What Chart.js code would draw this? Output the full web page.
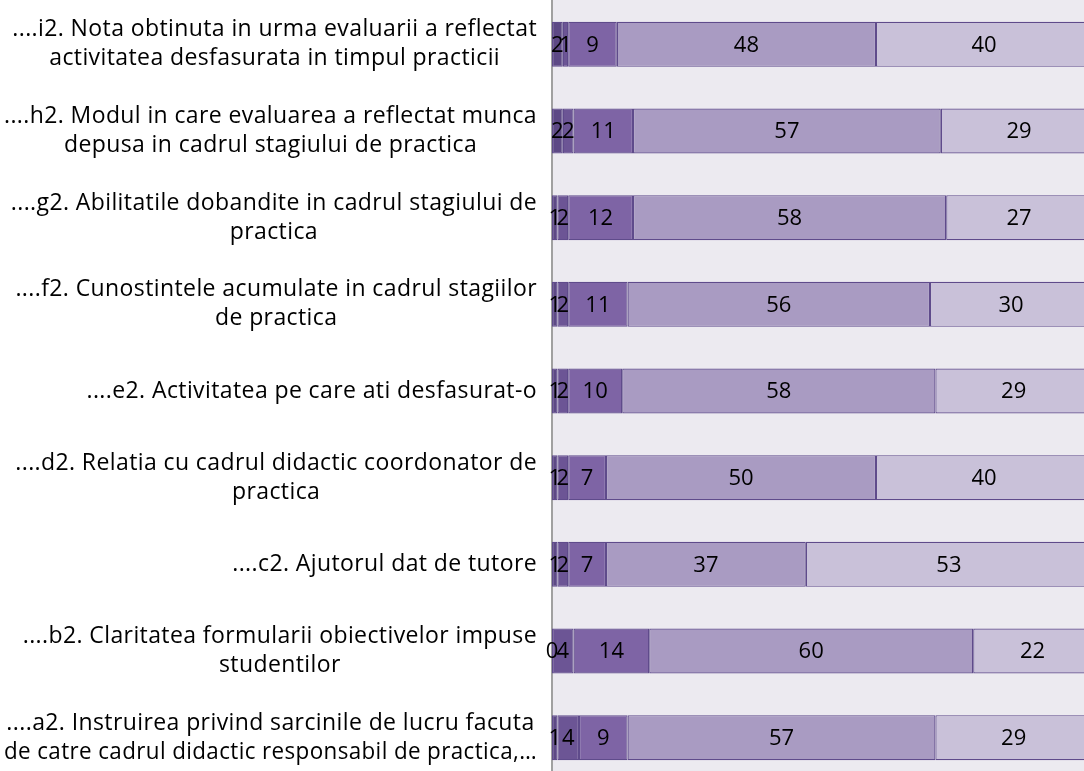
<!DOCTYPE html>
<html lang="ro">
<head>
    <meta charset="UTF-8">
    <title>Evaluarea stagiului de practica</title>
    <style>
        html, body {
            margin: 0;
            padding: 0;
            background: #ffffff;
            overflow: hidden;
        }
        #wrap {
            width: 1100px;
            height: 781px;
        }
    </style>
    <script src="https://cdn.jsdelivr.net/npm/chart.js"></script>
</head>
<body>
    <div id="wrap">
        <canvas id="chart" width="1100" height="781"></canvas>
    </div>

    <script>
        // Categories, top to bottom
        const categories = [
            ['....i2. Nota obtinuta in urma evaluarii a reflectat', 'activitatea desfasurata in timpul practicii'],
            ['....h2. Modul in care evaluarea a reflectat munca', 'depusa in cadrul stagiului de practica'],
            ['....g2. Abilitatile dobandite in cadrul stagiului de', 'practica'],
            ['....f2. Cunostintele acumulate in cadrul stagiilor', 'de practica'],
            ['....e2. Activitatea pe care ati desfasurat-o'],
            ['....d2. Relatia cu cadrul didactic coordonator de', 'practica'],
            ['....c2. Ajutorul dat de tutore '],
            ['....b2. Claritatea formularii obiectivelor impuse', 'studentilor'],
            ['....a2. Instruirea privind sarcinile de lucru facuta', 'de catre cadrul didactic responsabil de practica,…']
        ];

        // Five answer levels (stacked segments, left to right)
        const level1 = [2, 2, 1, 1, 1, 1, 1, 0, 1];
        const level2 = [1, 2, 2, 2, 2, 2, 2, 4, 4];
        const level3 = [9, 11, 12, 11, 10, 7, 7, 14, 9];
        const level4 = [48, 57, 58, 56, 58, 50, 37, 60, 57];
        const level5 = [40, 29, 27, 30, 29, 40, 53, 22, 29];

        const levelColors = ['#5d4985', '#6c5595', '#7e64a5', '#a99bc2', '#c9c1d9'];
        const FONT = '"Open Sans", "Noto Sans", sans-serif';

        // lavender plot background
        const plotBg = {
            id: 'plotBg',
            beforeDraw(chart) {
                const { ctx, chartArea } = chart;
                ctx.save();
                ctx.fillStyle = '#eceaf0';
                ctx.fillRect(chartArea.left, 0, chart.width - chartArea.left, chart.height);
                ctx.restore();
            }
        };

        // category labels: lines centred on each other, block right-aligned to the axis
        const catLabels = {
            id: 'catLabels',
            afterDraw(chart) {
                const { ctx } = chart;
                const yScale = chart.scales.y;
                const right = chart.chartArea.left - 15;
                const maxW = 533;
                const lineH = 29;
                ctx.save();
                ctx.font = '23px ' + FONT;
                ctx.letterSpacing = '0.4px';
                ctx.fillStyle = '#000000';
                ctx.textAlign = 'center';
                ctx.textBaseline = 'middle';
                chart.data.labels.forEach((lines, i) => {
                    const y = yScale.getPixelForTick(i);
                    const w = Math.min(maxW, Math.max(...lines.map(l => ctx.measureText(l.trimEnd()).width)));
                    const cx = right - w / 2;
                    const y0 = y - (lines.length - 1) * lineH / 2;
                    lines.forEach((l, j) => ctx.fillText(l.trimEnd(), cx, y0 + j * lineH, maxW));
                });
                ctx.restore();
            }
        };

        // values written in the middle of every segment
        const segLabels = {
            id: 'segLabels',
            afterDatasetsDraw(chart) {
                const { ctx } = chart;
                ctx.save();
                ctx.font = '22px ' + FONT;
                ctx.fillStyle = '#000000';
                ctx.textAlign = 'center';
                ctx.textBaseline = 'middle';
                chart.data.datasets.forEach((ds, di) => {
                    chart.getDatasetMeta(di).data.forEach((bar, i) => {
                        const p = bar.getProps(['x', 'y', 'base'], true);
                        ctx.fillText(String(ds.data[i]), (p.x + p.base) / 2, p.y + 1);
                    });
                });
                ctx.restore();
            }
        };

        const series = [level1, level2, level3, level4, level5];

        new Chart(document.getElementById('chart'), {
            type: 'bar',
            data: {
                labels: categories,
                datasets: series.map((vals, k) => ({
                    label: 'Nivel ' + (k + 1),
                    data: vals,
                    backgroundColor: levelColors[k],
                    borderColor: '#5f4b8b',
                    borderWidth: 1.2,
                    borderSkipped: false,
                    categoryPercentage: 1,
                    barPercentage: 0.52
                }))
            },
            options: {
                indexAxis: 'y',
                responsive: false,
                animation: false,
                layout: { padding: { top: 1, right: 8, bottom: 0, left: 0 } },
                plugins: {
                    legend: { display: false },
                    tooltip: { enabled: false }
                },
                scales: {
                    x: {
                        stacked: true,
                        min: 0,
                        max: 100,
                        display: false
                    },
                    y: {
                        stacked: true,
                        grid: { display: false },
                        border: { display: true, color: '#a0a0a0', width: 2 },
                        ticks: { display: false },
                        afterFit(scale) { scale.width = 552; }
                    }
                }
            },
            plugins: [plotBg, catLabels, segLabels]
        });
    </script>
</body>
</html>
